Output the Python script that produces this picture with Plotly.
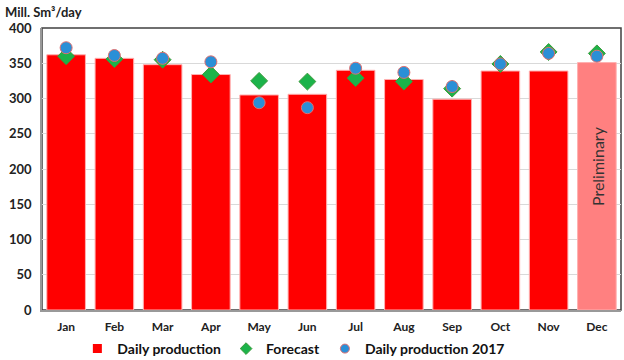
import plotly.graph_objects as go

months = ["Jan", "Feb", "Mar", "Apr", "May", "Jun", "Jul", "Aug", "Sep", "Oct", "Nov", "Dec"]
daily_production = [362, 357, 348, 334, 305, 306, 340, 327, 299, 339, 339, 351]
forecast = [360, 356, 355, 334, 325, 324, 329, 324, 314, 349, 366, 364]
daily_2017 = [372, 361, 357, 352, 294, 287, 343, 337, 317, 349, 364, 360]
y_ticks = [0, 50, 100, 150, 200, 250, 300, 350, 400]

bar_colors = ["#FF0000"] * 11 + ["#FF8080"]

FONT = "Lato"
DIAMOND = dict(symbol="diamond", color="#1CB34A", line=dict(color="#3A9A3A", width=1))
CIRCLE = dict(symbol="circle", color="#2B8FD6", line=dict(color="#E07070", width=1))

fig = go.Figure()
fig.add_trace(go.Bar(
    x=months, y=daily_production, name="Daily production",
    marker=dict(color=bar_colors, line=dict(color="#FFB0B0", width=1)),
    width=0.8, showlegend=False,
))
fig.add_trace(go.Scatter(
    x=months, y=forecast, name="Forecast", mode="markers",
    marker=dict(size=13, **DIAMOND), showlegend=False,
))
fig.add_trace(go.Scatter(
    x=months, y=daily_2017, name="Daily production 2017", mode="markers",
    marker=dict(size=12, **CIRCLE), showlegend=False,
))
# legend entries (smaller symbols, as in the reference)
fig.add_trace(go.Scatter(x=[None], y=[None], name="Daily production", mode="markers",
                         marker=dict(symbol="square", size=9, color="#FF0000"), showlegend=True))
fig.add_trace(go.Scatter(x=[None], y=[None], name="Forecast", mode="markers",
                         marker=dict(size=9, **DIAMOND), showlegend=True))
fig.add_trace(go.Scatter(x=[None], y=[None], name="Daily production 2017", mode="markers",
                         marker=dict(size=9, **CIRCLE), showlegend=True))

fig.add_annotation(
    x="Dec", y=204, text="Preliminary", textangle=-90, showarrow=False,
    font=dict(family=FONT, size=16, color="#333333"),
)
fig.add_annotation(
    xref="paper", yref="paper", x=-0.068, y=1.0, yshift=16, xanchor="left", yanchor="middle",
    text="<b>Mill. Sm³/day</b>", showarrow=False,
    font=dict(family=FONT, size=13, color="#222222"),
)
fig.add_shape(type="rect", xref="paper", yref="paper", x0=0, x1=1, y0=0, y1=1,
              line=dict(color="#404040", width=1.5), layer="below")

fig.update_layout(
    width=624, height=360,
    margin=dict(l=42, r=3, t=28, b=50, autoexpand=False),
    paper_bgcolor="white", plot_bgcolor="white",
    font=dict(family=FONT, size=12, color="#222222"),
    bargap=0.2,
    showlegend=True,
    legend=dict(orientation="h", x=0.435, xanchor="center",
                yref="container", y=0.075, yanchor="top",
                bgcolor="rgba(0,0,0,0)",
                font=dict(family=FONT, size=14, color="#111111", weight="bold"),
                itemwidth=30, traceorder="normal", tracegroupgap=0),
    xaxis=dict(
        categoryorder="array", categoryarray=months, range=[-0.5, 11.5],
        tickfont=dict(family=FONT, size=12, color="#222222", weight="bold"),
        showline=True, linecolor="#999999", linewidth=1.5,
        ticks="", showgrid=False, ticklabelstandoff=5, automargin=False,
    ),
    yaxis=dict(
        range=[0, 400], tickvals=y_ticks, ticktext=[str(v) for v in y_ticks],
        tickfont=dict(family=FONT, size=13, color="#222222", weight="bold"),
        showline=True, linecolor="#999999", linewidth=1.5,
        showgrid=True, gridcolor="#D9D9D9", gridwidth=1,
        zeroline=False, ticks="", ticklabelstandoff=6, automargin=False,
    ),
)

fig.write_html("out.html", config={"displayModeBar": False},
               post_script="document.body.style.margin='0';")
